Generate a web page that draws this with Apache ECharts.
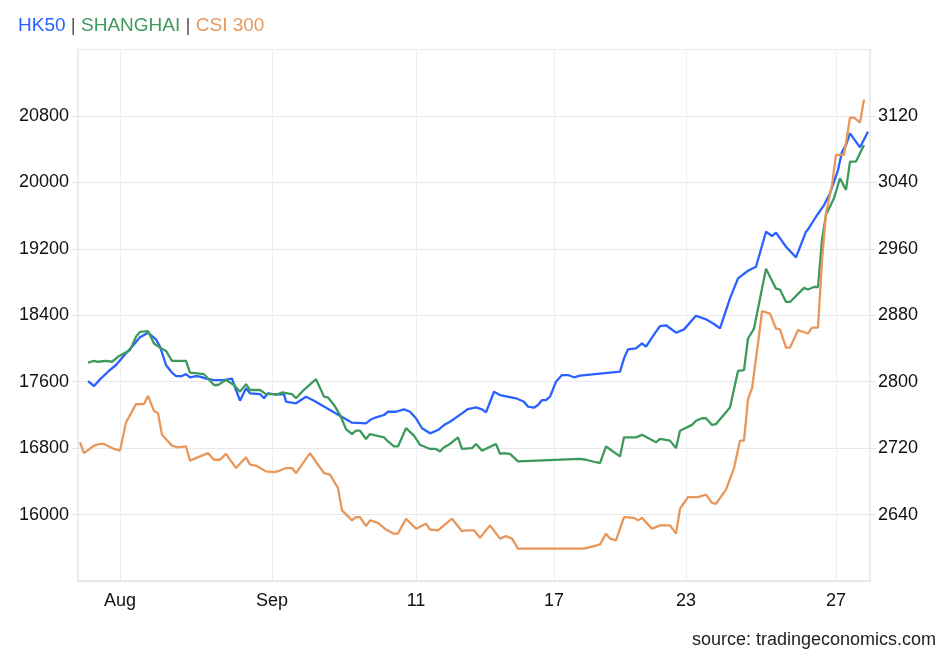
<!DOCTYPE html>
<html>
<head>
<meta charset="utf-8">
<script src="https://cdn.jsdelivr.net/npm/echarts@6/dist/echarts.min.js"></script>
<style>
html,body{margin:0;padding:0;background:#fff;}
#c{width:948px;height:657px;}
</style>
</head>
<body>
<div id="c"></div>
<script>
// sample slots along the x axis (irregular trading-time samples)
const categories = Array.from({length: 397}, (_, i) => String(i));
const xTickIdx = [21, 97, 169, 238, 304, 379];
const xTickLabels = ['Aug', 'Sep', '11', '17', '23', '27'];

// HK50 (left axis) : [sample index, value]
const hk50 = [
[5,17608],[8,17548],[11,17628],[15,17720],[19,17801],[24,17941],[27,18021],[31,18134],[35,18190],
[39,18110],[41,18021],[44,17801],[47,17708],[49,17668],[52,17668],[54,17692],[56,17653],[59,17668],
[61,17660],[64,17636],[68,17620],[73,17620],[77,17636],[79,17500],[81,17371],[84,17520],[86,17460],
[91,17451],[93,17400],[95,17460],[99,17443],[103,17450],[104,17359],[109,17340],[114,17419],[118,17371],
[137,17106],[144,17099],[146,17138],[149,17171],[153,17199],[155,17238],[159,17238],[163,17267],
[166,17238],[169,17159],[172,17039],[176,16978],[180,17018],[183,17078],[186,17118],[192,17219],
[195,17271],[199,17291],[202,17267],[204,17231],[208,17479],[211,17439],[219,17400],[223,17359],
[225,17299],[228,17287],[230,17319],[232,17379],[234,17379],[236,17419],[239,17600],[242,17680],
[245,17680],[248,17653],[251,17672],[271,17720],[273,17881],[275,17990],[279,18002],[282,18062],
[284,18021],[289,18202],[291,18270],[294,18279],[299,18190],[303,18230],[309,18394],[314,18351],
[318,18294],[321,18242],[326,18604],[330,18844],[335,18936],[339,18984],[344,19406],[347,19354],
[349,19394],[354,19225],[359,19097],[364,19406],[365,19434],[369,19586],[373,19727],[376,19868],
[380,20148],[382,20369],[384,20449],[386,20590],[391,20422],[395,20610]
];

// SHANGHAI (right axis)
const shanghai = [
[5,2823],[8,2825],[10,2824],[14,2825],[17,2824],[20,2830],[26,2838],[29,2854],[31,2860],[35,2861],
[38,2846],[41,2841],[44,2837],[47,2825],[54,2825],[56,2811],[63,2809],[68,2796],[70,2796],[74,2802],
[78,2796],[81,2788],[84,2797],[86,2790],[91,2790],[94,2785],[100,2785],[102,2787],[107,2785],[109,2780],
[112,2788],[119,2803],[123,2782],[125,2781],[128,2772],[131,2760],[134,2743],[137,2737],[139,2741],
[141,2741],[144,2731],[146,2737],[153,2733],[155,2728],[158,2722],[160,2722],[164,2744],[168,2735],
[171,2724],[176,2719],[179,2719],[181,2716],[183,2721],[186,2725],[190,2733],[192,2719],[197,2720],
[199,2725],[202,2717],[209,2725],[211,2713],[213,2714],[216,2713],[220,2704],[251,2707],[254,2706],
[259,2703],[261,2702],[264,2722],[271,2710],[273,2733],[279,2733],[282,2736],[289,2727],[291,2731],
[296,2729],[299,2720],[301,2741],[307,2748],[309,2753],[312,2756],[314,2756],[317,2748],[319,2749],
[326,2769],[330,2813],[333,2814],[335,2852],[338,2864],[344,2936],[349,2912],[351,2911],[354,2896],
[356,2896],[363,2913],[365,2911],[368,2914],[370,2914],[372,2971],[374,3001],[378,3021],[381,3045],
[384,3031],[386,3065],[389,3065],[393,3085]
];

// CSI 300 (own hidden scale)
const csi300 = [
[1,3287],[3,3274],[8,3283],[11,3285],[13,3285],[18,3279],[21,3277],[22,3277],[24,3311],[29,3333],
[33,3333],[35,3343],[38,3325],[40,3322],[42,3296],[47,3283],[50,3281],[54,3282],[56,3265],[61,3270],
[65,3274],[68,3266],[71,3266],[74,3273],[79,3256],[84,3269],[86,3260],[89,3259],[94,3252],[98,3251],
[101,3253],[104,3256],[107,3256],[109,3250],[116,3274],[120,3260],[123,3250],[126,3248],[128,3240],
[130,3232],[132,3205],[137,3193],[139,3197],[141,3197],[144,3186],[146,3193],[150,3190],[154,3182],
[158,3177],[160,3177],[164,3195],[169,3183],[174,3189],[176,3182],[180,3181],[187,3195],[192,3180],
[194,3181],[198,3181],[201,3172],[206,3187],[211,3171],[214,3174],[217,3171],[220,3159],[251,3159],
[253,3159],[258,3162],[259,3164],[261,3164],[264,3177],[266,3171],[269,3169],[273,3197],[278,3196],
[280,3193],[282,3196],[287,3183],[291,3187],[296,3187],[299,3177],[301,3207],[305,3221],[310,3221],
[314,3224],[317,3214],[319,3213],[324,3230],[328,3256],[331,3289],[333,3289],[335,3339],[337,3352],
[340,3406],[342,3445],[346,3442],[349,3424],[351,3423],[354,3401],[356,3401],[360,3422],[365,3418],
[367,3425],[370,3425],[372,3506],[374,3563],[377,3597],[379,3633],[383,3633],[386,3678],[388,3678],
[391,3672],[393,3700]
];

const FONT = '"Liberation Sans", Arial, Helvetica, sans-serif';
const isTick = (idx) => xTickIdx.indexOf(idx) >= 0;
const plain = (v) => String(v);

const chart = echarts.init(document.getElementById('c'), null, {renderer: 'canvas'});
chart.setOption({
  animation: false,
  backgroundColor: '#fff',
  textStyle: {fontFamily: FONT},
  title: {
    left: 18, top: 16, padding: 0,
    text: '{a|HK50} {s||} {b|SHANGHAI} {s||} {c|CSI 300}',
    textStyle: {
      fontFamily: FONT, fontSize: 19, fontWeight: 'normal',
      rich: {
        a: {color: '#2962ff', fontSize: 19, fontFamily: FONT},
        b: {color: '#3d9a5c', fontSize: 19, fontFamily: FONT},
        c: {color: '#e8975a', fontSize: 19, fontFamily: FONT},
        s: {color: '#555555', fontSize: 19, fontFamily: FONT}
      }
    }
  },
  graphic: [{
    type: 'text', right: 12, top: 631,
    style: {text: 'source: tradingeconomics.com', fill: '#222', font: '18px ' + FONT}
  }],
  grid: {left: 78, right: 78, top: 49.5, bottom: 76, containLabel: false},
  xAxis: {
    type: 'category', data: categories, boundaryGap: false,
    axisLine: {show: true, lineStyle: {color: '#e3e3e3', width: 1.5}},
    axisTick: {show: false},
    axisLabel: {
      interval: (idx) => isTick(idx),
      formatter: (v, idx) => xTickLabels[xTickIdx.indexOf(Number(v))] || '',
      color: '#111', fontSize: 18, fontFamily: FONT, margin: 11
    },
    splitLine: {show: true, interval: (idx) => isTick(idx), lineStyle: {color: '#eaf0f3', width: 1}}
  },
  yAxis: [
    {
      type: 'value', position: 'left', min: 15200, max: 21600, interval: 800,
      axisLine: {show: true, lineStyle: {color: '#e6e6e6', width: 1.5}},
      axisTick: {show: true, length: 6, lineStyle: {color: '#e3e3e3'}},
      axisLabel: {showMinLabel: false, showMaxLabel: false, formatter: plain, color: '#111', fontSize: 18, fontFamily: FONT, margin: 9},
      splitLine: {show: true, lineStyle: {color: '#e8e8e8', width: 1.2}}
    },
    {
      type: 'value', position: 'right', min: 2560, max: 3200, interval: 80,
      axisLine: {show: true, lineStyle: {color: '#e6e6e6', width: 1.5}},
      axisTick: {show: true, length: 6, lineStyle: {color: '#e3e3e3'}},
      axisLabel: {showMinLabel: false, showMaxLabel: false, formatter: plain, color: '#111', fontSize: 18, fontFamily: FONT, margin: 8},
      splitLine: {show: false}
    },
    {
      type: 'value', min: 3120, max: 3760, interval: 80, show: false,
      splitLine: {show: false}
    }
  ],
  series: [
    {name: 'HK50', type: 'line', yAxisIndex: 0, data: hk50, showSymbol: false, symbol: 'none',
     lineStyle: {color: '#2962ff', width: 2.3}, itemStyle: {color: '#2962ff'}},
    {name: 'SHANGHAI', type: 'line', yAxisIndex: 1, data: shanghai, showSymbol: false, symbol: 'none',
     lineStyle: {color: '#3d9a5c', width: 2.3}, itemStyle: {color: '#3d9a5c'}},
    {name: 'CSI 300', type: 'line', yAxisIndex: 2, data: csi300, showSymbol: false, symbol: 'none',
     lineStyle: {color: '#e8975a', width: 2.3}, itemStyle: {color: '#e8975a'}}
  ]
});
</script>
</body>
</html>
